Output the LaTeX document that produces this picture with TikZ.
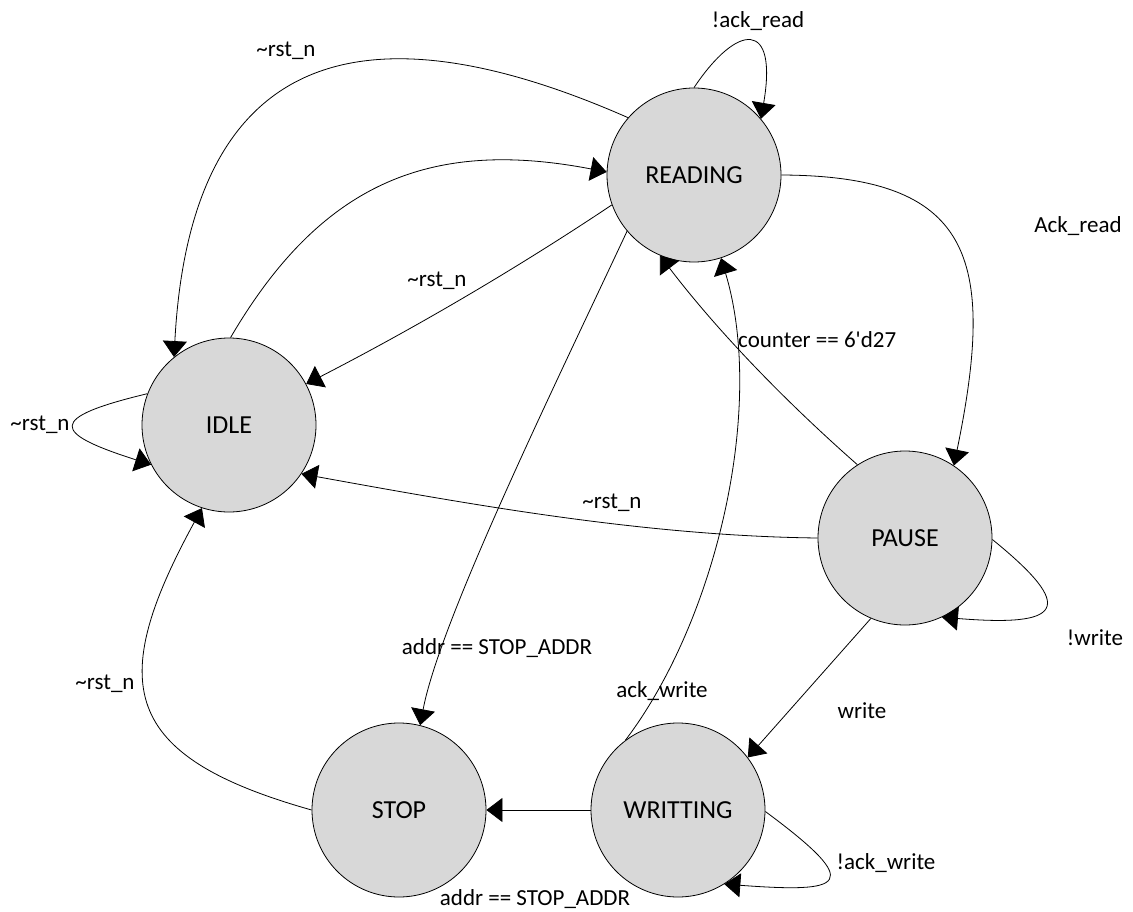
\documentclass[tikz,border=0pt]{standalone}
\usepackage{fontspec}
\setmainfont{Carlito}
\usetikzlibrary{arrows.meta}
\definecolor{stategray}{RGB}{216,216,216}
\tikzset{
  state/.style={circle, draw=black, line width=0.8pt, fill=stategray, minimum size=174pt, inner sep=0pt, font=\fontsize{26}{30}\selectfont},
  lbl/.style={inner sep=0pt, font=\fontsize{23}{27}\selectfont},
  conn/.style={line width=0.8pt, -{Triangle[length=16pt,width=24pt]}},
}
\begin{document}
\begin{tikzpicture}[x=1pt,y=-1pt]
\useasboundingbox (0,0) rectangle (1133,912);
\node[state] (R) at (694,175) {READING};
\node[state] (I) at (229,425) {IDLE};
\node[state] (P) at (905,538) {PAUSE};
\node[state] (S) at (399,810) {STOP};
\node[state] (W) at (678,810) {WRITTING};

% READING self loop
\draw[conn] (R.90) .. controls (738,22) and (778,20) .. (R.40);
\node[lbl] (l1) at (758,21) {!ack\_read};
% READING -> IDLE big arc
\draw[conn] (R.139) .. controls (354,-3) and (190,57) .. (I.129);
\node[lbl] (l2) at (286,51) {\textasciitilde rst\_n};
% IDLE -> READING
\draw[conn] (I.89) .. controls (321,183) and (430,138) .. (R.178);
% READING -> IDLE middle
\draw[conn] (R.200) .. controls (513,271) and (411,330) .. (I.28);
\node[lbl] (l3) at (437,281) {\textasciitilde rst\_n};
% READING -> STOP
\draw[conn] (R.220) .. controls (557,381) and (440,620) .. (S.76);
\node[lbl] (l4) at (497,648) {addr == STOP\_ADDR};
% PAUSE -> READING
\draw[conn] (P.123) .. controls (777,394) and (712,324) .. (R.247);
\node[lbl, anchor=west] (l5) at (738,340) {counter == 6\textquotesingle d27};
% WRITTING -> READING
\draw[conn] (W.127) .. controls (716,621) and (766,408) .. (R.288);
\node[lbl] (l6) at (662,691) {ack\_write};
% READING -> PAUSE
\draw[conn] (R.0) .. controls (971,176) and (997,256) .. (P.56);
\node[lbl] (l7) at (1078,226) {Ack\_read};
% PAUSE -> WRITTING
\draw[conn] (P.247) -- (W.37);
\node[lbl] (l8) at (862,711) {write};
% PAUSE self loop
\draw[conn] (P.-1) .. controls (1078,609) and (1062,627) .. (P.-65);
\node[lbl] (l9) at (1095,638) {!write};
% WRITTING self loop
\draw[conn] (W.-1) .. controls (866,886) and (844,893) .. (W.-58);
\node[lbl] (l10) at (886,863) {!ack\_write};
% WRITTING -> STOP
\draw[conn] (W.180) -- (S.0);
\node[lbl] (l11) at (535,899) {addr == STOP\_ADDR};
% STOP -> IDLE
\draw[conn] (S.180) .. controls (120,756) and (106,684) .. (I.252);
\node[lbl] (l12) at (105,684) {\textasciitilde rst\_n};
% IDLE self loop
\draw[conn] (I.159) .. controls (46,418) and (52,433) .. (I.207);
\node[lbl] (l13) at (40,425) {\textasciitilde rst\_n};
% PAUSE -> IDLE
\draw[conn] (P.180) .. controls (646,536) and (473,505) .. (I.-34);
\node[lbl] (l14) at (612,503) {\textasciitilde rst\_n};
\end{tikzpicture}
\end{document}
